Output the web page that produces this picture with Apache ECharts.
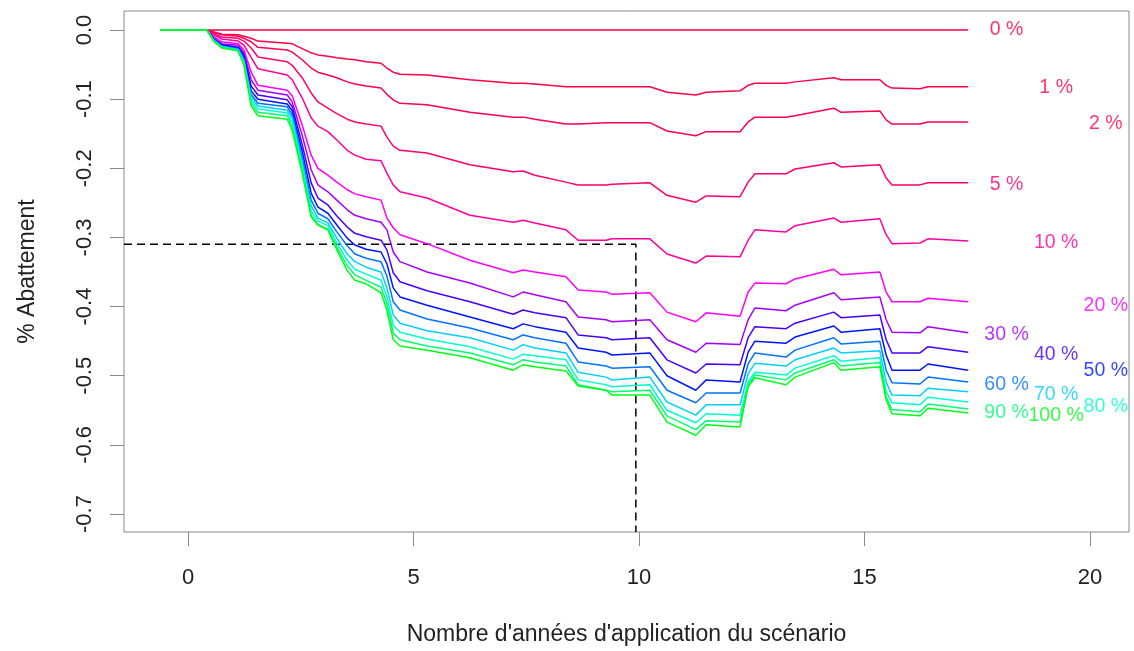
<!DOCTYPE html>
<html>
<head>
<meta charset="utf-8">
<script src="https://cdn.jsdelivr.net/npm/echarts@6/dist/echarts.min.js"></script>
<style>
html,body{margin:0;padding:0;background:#fff}
#main{width:1134px;height:651px}
</style>
</head>
<body>
<div id="main"></div>
<script>
// années (axe x), communes à toutes les courbes
var years = [-0.62,0.42,0.58,0.75,1.11,1.24,1.4,1.55,2.2,2.31,2.53,2.73,2.88,3.1,3.3,3.53,3.7,3.95,4.28,4.41,4.55,4.7,5.3,6.25,7.21,7.43,7.69,8.38,8.65,9.27,9.4,10.24,10.62,11.26,11.49,12.24,12.42,12.57,13.26,13.46,14.32,14.48,15.34,15.48,15.61,16.23,16.41,17.3];

var s0 = [0,0,0,0,0,0,0,0,0,0,0,0,0,0,0,0,0,0,0,0,0,0,0,0,0,0,0,0,0,0,0,0,0,0,0,0,0,0,0,0,0,0,0,0,0,0,0,0];
var s1 = [0,0,-0.003,-0.006,-0.007,-0.009,-0.012,-0.016,-0.019,-0.020,-0.027,-0.033,-0.036,-0.038,-0.040,-0.042,-0.043,-0.046,-0.048,-0.055,-0.061,-0.064,-0.065,-0.072,-0.077,-0.077,-0.078,-0.082,-0.082,-0.082,-0.082,-0.082,-0.090,-0.094,-0.090,-0.088,-0.080,-0.077,-0.077,-0.075,-0.069,-0.072,-0.072,-0.080,-0.084,-0.085,-0.082,-0.082];
var s2 = [0,0,-0.004,-0.007,-0.009,-0.012,-0.017,-0.025,-0.029,-0.032,-0.043,-0.055,-0.061,-0.065,-0.069,-0.075,-0.078,-0.081,-0.084,-0.093,-0.101,-0.106,-0.108,-0.119,-0.126,-0.126,-0.129,-0.136,-0.136,-0.134,-0.134,-0.134,-0.146,-0.153,-0.147,-0.147,-0.133,-0.126,-0.126,-0.124,-0.113,-0.119,-0.117,-0.130,-0.136,-0.136,-0.133,-0.133];
var s5 = [0,0,-0.006,-0.010,-0.012,-0.016,-0.026,-0.039,-0.046,-0.051,-0.069,-0.091,-0.104,-0.113,-0.121,-0.129,-0.133,-0.136,-0.139,-0.155,-0.168,-0.174,-0.178,-0.195,-0.205,-0.204,-0.210,-0.220,-0.224,-0.224,-0.223,-0.221,-0.239,-0.249,-0.240,-0.241,-0.220,-0.208,-0.208,-0.201,-0.192,-0.198,-0.195,-0.214,-0.224,-0.224,-0.221,-0.221];
var s10 = [0,0,-0.007,-0.013,-0.016,-0.022,-0.040,-0.056,-0.065,-0.072,-0.098,-0.127,-0.139,-0.147,-0.159,-0.174,-0.181,-0.187,-0.189,-0.207,-0.224,-0.234,-0.243,-0.268,-0.278,-0.275,-0.279,-0.289,-0.304,-0.304,-0.302,-0.302,-0.324,-0.337,-0.327,-0.328,-0.304,-0.289,-0.292,-0.283,-0.272,-0.278,-0.273,-0.296,-0.309,-0.308,-0.302,-0.305];
var s20 = [0,0,-0.010,-0.017,-0.020,-0.029,-0.061,-0.080,-0.087,-0.095,-0.137,-0.181,-0.200,-0.210,-0.220,-0.231,-0.237,-0.241,-0.246,-0.272,-0.286,-0.296,-0.309,-0.333,-0.351,-0.347,-0.350,-0.357,-0.376,-0.379,-0.382,-0.380,-0.408,-0.422,-0.409,-0.414,-0.379,-0.366,-0.367,-0.360,-0.346,-0.354,-0.350,-0.379,-0.393,-0.393,-0.388,-0.393];
var s30 = [0,0,-0.012,-0.020,-0.022,-0.033,-0.072,-0.087,-0.094,-0.104,-0.152,-0.202,-0.224,-0.234,-0.246,-0.260,-0.268,-0.273,-0.278,-0.289,-0.321,-0.335,-0.350,-0.366,-0.386,-0.379,-0.383,-0.393,-0.415,-0.419,-0.422,-0.419,-0.448,-0.466,-0.453,-0.455,-0.419,-0.402,-0.406,-0.398,-0.380,-0.390,-0.386,-0.419,-0.437,-0.438,-0.429,-0.438];
var s40 = [0,0,-0.013,-0.021,-0.025,-0.036,-0.081,-0.094,-0.101,-0.111,-0.165,-0.221,-0.243,-0.253,-0.269,-0.285,-0.294,-0.299,-0.304,-0.318,-0.351,-0.364,-0.377,-0.393,-0.411,-0.405,-0.409,-0.416,-0.441,-0.445,-0.448,-0.445,-0.477,-0.496,-0.483,-0.484,-0.445,-0.429,-0.432,-0.424,-0.408,-0.416,-0.412,-0.448,-0.467,-0.467,-0.458,-0.466];
var s50 = [0,0,-0.014,-0.022,-0.026,-0.039,-0.088,-0.100,-0.107,-0.117,-0.175,-0.236,-0.256,-0.265,-0.282,-0.301,-0.311,-0.317,-0.321,-0.338,-0.373,-0.386,-0.398,-0.415,-0.432,-0.425,-0.429,-0.437,-0.460,-0.466,-0.470,-0.467,-0.500,-0.521,-0.506,-0.509,-0.466,-0.450,-0.453,-0.444,-0.428,-0.437,-0.432,-0.470,-0.492,-0.492,-0.483,-0.492];
var s60 = [0,0,-0.014,-0.023,-0.027,-0.042,-0.093,-0.106,-0.111,-0.123,-0.184,-0.246,-0.265,-0.273,-0.292,-0.312,-0.324,-0.330,-0.335,-0.356,-0.393,-0.405,-0.418,-0.431,-0.448,-0.441,-0.445,-0.453,-0.480,-0.486,-0.489,-0.487,-0.521,-0.539,-0.525,-0.525,-0.483,-0.467,-0.473,-0.463,-0.445,-0.454,-0.450,-0.492,-0.510,-0.512,-0.502,-0.509];
var s70 = [0,0,-0.016,-0.024,-0.028,-0.045,-0.097,-0.110,-0.116,-0.127,-0.191,-0.254,-0.272,-0.279,-0.301,-0.324,-0.335,-0.343,-0.350,-0.373,-0.412,-0.424,-0.435,-0.445,-0.463,-0.455,-0.460,-0.467,-0.495,-0.502,-0.506,-0.502,-0.538,-0.557,-0.542,-0.542,-0.497,-0.482,-0.486,-0.477,-0.460,-0.467,-0.464,-0.509,-0.528,-0.529,-0.518,-0.523];
var s80 = [0,0,-0.016,-0.025,-0.029,-0.046,-0.101,-0.114,-0.120,-0.133,-0.197,-0.262,-0.276,-0.283,-0.308,-0.333,-0.346,-0.353,-0.362,-0.386,-0.427,-0.437,-0.447,-0.458,-0.476,-0.469,-0.471,-0.477,-0.506,-0.513,-0.516,-0.513,-0.550,-0.568,-0.555,-0.557,-0.509,-0.495,-0.499,-0.489,-0.471,-0.479,-0.474,-0.523,-0.539,-0.542,-0.531,-0.538];
var s90 = [0,0,-0.017,-0.025,-0.030,-0.049,-0.106,-0.119,-0.124,-0.139,-0.202,-0.268,-0.281,-0.288,-0.314,-0.341,-0.354,-0.362,-0.372,-0.396,-0.438,-0.448,-0.457,-0.467,-0.484,-0.477,-0.480,-0.486,-0.513,-0.521,-0.523,-0.521,-0.558,-0.578,-0.565,-0.567,-0.513,-0.499,-0.506,-0.496,-0.477,-0.486,-0.481,-0.531,-0.549,-0.552,-0.541,-0.548];
var s100 = [0,0,-0.017,-0.026,-0.030,-0.051,-0.110,-0.124,-0.129,-0.145,-0.207,-0.270,-0.282,-0.289,-0.318,-0.348,-0.362,-0.367,-0.380,-0.405,-0.448,-0.457,-0.463,-0.474,-0.492,-0.484,-0.487,-0.493,-0.515,-0.521,-0.528,-0.528,-0.567,-0.586,-0.571,-0.574,-0.516,-0.503,-0.513,-0.502,-0.481,-0.492,-0.487,-0.535,-0.555,-0.558,-0.547,-0.554];

var curves = [s0,s1,s2,s5,s10,s20,s30,s40,s50,s60,s70,s80,s90,s100];
var names = ['0 %','1 %','2 %','5 %','10 %','20 %','30 %','40 %','50 %','60 %','70 %','80 %','90 %','100 %'];
var colors = ['#FF0040','#FF0048','#FF0051','#FF006E','#FF009D','#FF00FB','#A600FF','#4800FF','#0015FF','#0073FF','#00D0FF','#00FFD0','#00FF73','#00FF15'];

// position des étiquettes à droite des courbes
var labelX = [18.15,19.25,20.35,18.15,19.25,20.35,18.15,19.25,20.35,18.15,19.25,20.35,18.15,19.25];
var labelY = [0,-0.084,-0.136,-0.224,-0.308,-0.398,-0.441,-0.470,-0.493,-0.513,-0.528,-0.545,-0.554,-0.558];

var xTicks = [0,5,10,15,20];
var yTicks = [0,-0.1,-0.2,-0.3,-0.4,-0.5,-0.6,-0.7];

// lecture pointillée
var refX = 9.93, refY = -0.31;

var xMin = -1.42, xMax = 20.865, yMin = -0.726, yMax = 0.0275;
var font = 'Liberation Sans, Arial, Helvetica, sans-serif';

var myChart = echarts.init(document.getElementById('main'));

var series = [];
curves.forEach(function (c, k) {
  series.push({
    name: names[k],
    type: 'line',
    data: years.map(function (x, i) { return [x, c[i]]; }),
    showSymbol: false,
    symbol: 'none',
    silent: true,
    lineStyle: { width: 1.5, color: colors[k] },
    z: 3
  });
});

series.push({
  type: 'line',
  data: [[xMin, refY], [refX, refY], [refX, yMin]],
  showSymbol: false,
  symbol: 'none',
  silent: true,
  lineStyle: { color: '#000', width: 1.5, type: [8, 5] },
  z: 2
});

series.push({
  type: 'scatter',
  symbolSize: 0,
  silent: true,
  data: labelX.map(function (x, k) {
    return {
      value: [x, labelY[k]],
      label: { color: colors[k] }
    };
  }),
  label: {
    show: true,
    position: 'inside',
    fontFamily: font,
    fontSize: 19.5,
    formatter: function (p) { return names[p.dataIndex]; }
  },
  z: 4
});

var option = {
  animation: false,
  backgroundColor: '#fff',
  grid: {
    left: 124, right: 5, top: 11, bottom: 119,
    show: true, borderColor: '#888', borderWidth: 1,
    containLabel: false, outerBoundsMode: 'none'
  },
  xAxis: {
    type: 'value',
    position: 'bottom',
    min: xMin, max: xMax,
    name: "Nombre d'années d'application du scénario",
    nameLocation: 'middle',
    nameGap: 91,
    nameTextStyle: { fontFamily: font, fontSize: 23, color: '#222' },
    axisLine: { show: false, onZero: false },
    splitLine: { show: false },
    axisTick: { show: true, inside: false, customValues: xTicks, length: 14, lineStyle: { color: '#888' } },
    axisLabel: {
      customValues: xTicks, margin: 35,
      fontFamily: font, fontSize: 22, color: '#222',
      formatter: function (v) { return String(v); }
    }
  },
  yAxis: {
    type: 'value',
    position: 'left',
    min: yMin, max: yMax,
    name: '% Abattement',
    nameLocation: 'middle',
    nameGap: 85,
    nameTextStyle: { fontFamily: font, fontSize: 23, color: '#222' },
    axisLine: { show: false, onZero: false },
    splitLine: { show: false },
    axisTick: { show: true, inside: false, customValues: yTicks, length: 14, lineStyle: { color: '#888' } },
    axisLabel: {
      customValues: yTicks, margin: 28, rotate: 90,
      fontFamily: font, fontSize: 22, color: '#222',
      formatter: function (v) { return v.toFixed(1); }
    }
  },
  series: series
};
myChart.setOption(option);
</script>
</body>
</html>
